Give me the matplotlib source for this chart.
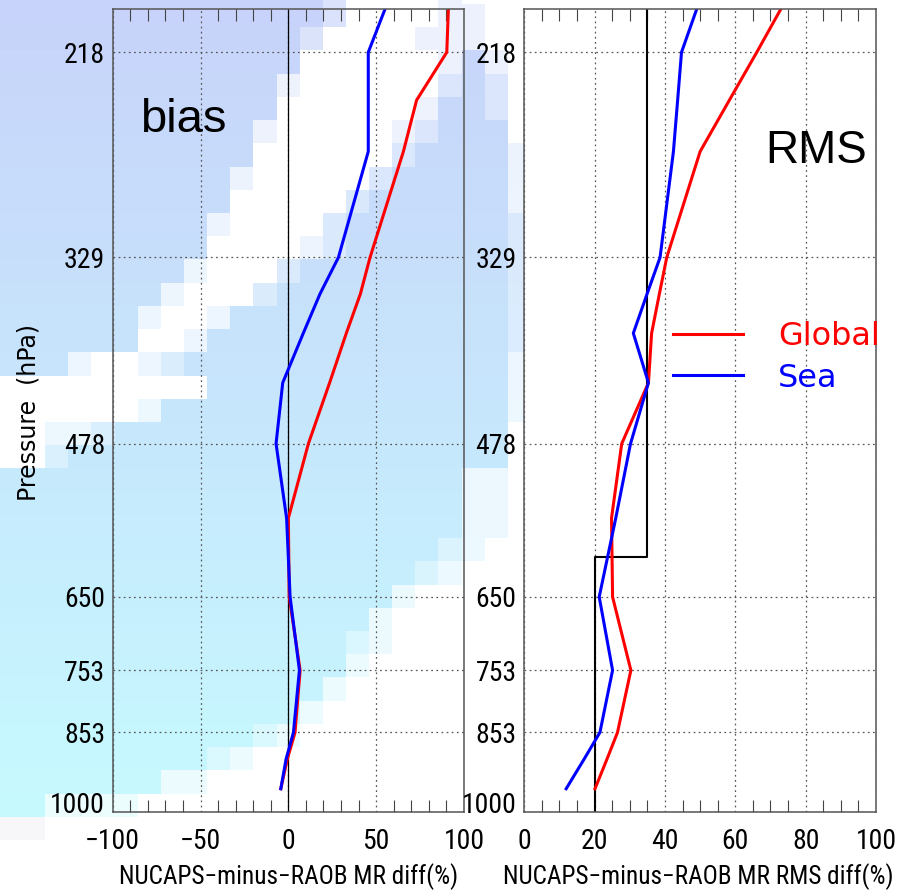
import numpy as np
import matplotlib
matplotlib.use('Agg')
import matplotlib.pyplot as plt
from matplotlib import font_manager as fm
from matplotlib.ticker import FixedLocator, MultipleLocator, NullLocator
from matplotlib.transforms import ScaledTranslation

# ---------------- data ----------------
levels = [200, 218, 240, 266, 329, 354, 383, 423, 478, 555, 650, 753, 853, 900, 955]
bias_global = [91.1, 90.2, 73.0, 65.5, 46.5, 41.0, 33.0, 23.5, 11.4, 0.0, 0.5, 6.7, 3.8, -0.6, -4.3]
bias_sea = [55.0, 45.5, 45.5, 45.5, 28.5, 18.0, 8.5, -3.2, -7.0, -1.0, 1.0, 6.3, 2.9, -1.3, -4.3]
rms_global = [72.9, 66.1, 58.3, 50.0, 40.5, 38.4, 36.2, 35.3, 27.7, 24.8, 25.1, 30.3, 26.5, 23.5, 20.1]
rms_sea = [49.0, 44.7, 43.6, 42.4, 38.6, 34.9, 31.0, 35.3, 30.2, 26.0, 21.3, 25.1, 21.5, 17.0, 11.9]
req_p = [200, 600, 600, 1000]
req_rms = [35, 35, 20, 20]

p_ticks = [218, 329, 478, 650, 753, 853, 1000]
p_labels = ['218', '329', '478', '650', '753', '853', '1000']
bias_ticks = [-100, -50, 0, 50, 100]
bias_labels = ['\u2212100', '\u221250', '0', '50', '100']
rms_ticks = [0, 20, 40, 60, 80, 100]
rms_labels = ['0', '20', '40', '60', '80', '100']
series_names = ['Global', 'Sea']
series_colors = ['#ff0000', '#0000ff']

# decorative slide background (blocky gradient with white swooshes)
bg_rows = [
    "..............-####+###",
    "..............-####++##",
    ".............-####+++##",
    ".............######+.+#",
    "............+######-.-#",
    "............######+..-#",
    "...........+#####+-...#",
    "...........######-....+",
    "..........+#####-.....+",
    "..........#####-......+",
    ".........+####-.......-",
    ".........####+-.......-",
    "........+###-.........-",
    ".......+###-..........-",
    "......+##+............-",
    "......##+.............-",
    "...+##+-..............+",
    "#########.............+",
    "######+...............+",
    "##++-.................#",
    "##-...................#",
    "....................++#",
    "....................++#",
    "....................++#",
    "...................-+##",
    "..................-+###",
    ".................+#####",
    "................+######",
    "...............-+######",
    "...............+#######",
    "..............+########",
    ".............+#########",
    "...........-+##########",
    ".........-+############",
    ".......++##############",
    "..++++#################",
    "gg#####################",
]

# ---------------- fonts ----------------
names = {f.name for f in fm.fontManager.ttflist}
narrow = None
for cand in ['Liberation Sans Narrow', 'DejaVu Sans Condensed', 'Roboto Condensed']:
    if cand in names:
        narrow = dict(family=cand)
        break
if narrow is None:
    for f in fm.fontManager.ttflist:
        if f.name == 'DejaVu Sans' and f.stretch == 'condensed':
            narrow = dict(family='DejaVu Sans', stretch='condensed')
            break
if narrow is None:
    narrow = dict(family='DejaVu Sans')
    tick_size, xlab_size = 15.5, 14.5
else:
    tick_size, xlab_size = 20, 18.2

W, H = 902, 892
fig = plt.figure(figsize=(W / 100, H / 100), dpi=100, facecolor='white')

# background image
top_c = np.array([200, 211, 250]) / 255.0
bot_c = np.array([198, 250, 255]) / 255.0
wmap = {'.': 0.0, '-': 0.35, '+': 0.68, '#': 1.0}
nr, nc = len(bg_rows), len(bg_rows[0])
y0, rh = -18.2, 23.2
x0, cw = -1.0, 23.1
img = np.ones((nr, nc, 3))
for j, row in enumerate(bg_rows):
    yc = y0 + rh * (j + 0.5)
    t = np.clip(yc / 817.0, 0, 1)
    base = top_c * (1 - t) + bot_c * t
    for c, ch in enumerate(row):
        if ch == 'g':
            img[j, c] = np.array([247, 247, 250]) / 255.0
        else:
            w = wmap[ch]
            img[j, c] = base * (1 - w) + w
bg = fig.add_axes([0, 0, 1, 1], zorder=0)
bg.imshow(img, extent=[x0, x0 + cw * nc, y0 + rh * nr, y0], interpolation='nearest', aspect='auto')
bg.set_xlim(0, W)
bg.set_ylim(H, 0)
bg.axis('off')


def px_rect(xa, ya, xb, yb):
    return [xa / W, 1 - yb / H, (xb - xa) / W, (yb - ya) / H]


ax1 = fig.add_axes(px_rect(112.7, 9.3, 464.0, 811.7), zorder=1)
ax1.patch.set_alpha(0.0)
ax2 = fig.add_axes(px_rect(524.3, 9.3, 876.0, 811.7), zorder=1)
ax2.set_facecolor('white')


def style(ax, xlim, xmajor, xlabels, xminor):
    ax.set_yscale('log')
    ax.set_ylim(1000, 200)
    ax.set_xlim(*xlim)
    ax.yaxis.set_major_locator(FixedLocator(p_ticks))
    ax.yaxis.set_minor_locator(NullLocator())
    ax.set_yticklabels(p_labels, **narrow, fontsize=tick_size)
    ax.xaxis.set_major_locator(FixedLocator(xmajor))
    ax.xaxis.set_minor_locator(MultipleLocator(xminor))
    ax.set_xticklabels(xlabels, **narrow, fontsize=tick_size)
    ax.tick_params(axis='both', which='major', length=0)
    ax.tick_params(axis='y', which='major', pad=5.5)
    ax.tick_params(axis='x', which='major', pad=11.5)
    ax.tick_params(axis='x', which='minor', direction='in', length=8.6, width=0.8,
                   color='#444444', top=True, bottom=True)
    ax.tick_params(axis='y', which='minor', length=0)
    ax.grid(True, which='major', color='#555555', linestyle=(0, (1.4, 2.7)), linewidth=0.9)
    for s in ax.spines.values():
        s.set_color('#555555')
        s.set_linewidth(1.1)
    lab = ax.get_yticklabels()[-1]
    lab.set_transform(lab.get_transform() + ScaledTranslation(0, 0.09, fig.dpi_scale_trans))


style(ax1, (-100, 100), bias_ticks, bias_labels, 10)
style(ax2, (0, 100), rms_ticks, rms_labels, 5)

# bias panel
ax1.axvline(0, color='black', lw=0.9, zorder=1.8)
ax1.plot(bias_global, levels, color=series_colors[0], lw=2.2, label=series_names[0])
ax1.plot(bias_sea, levels, color=series_colors[1], lw=2.2, label=series_names[1])
ax1.text(0.078, 0.8475, 'bias', transform=ax1.transAxes, fontsize=34,
         family='Liberation Sans', va='baseline', ha='left')
ax1.set_xlabel('NUCAPS\u2212minus\u2212RAOB MR diff(%)', **narrow, fontsize=xlab_size)
ax1.xaxis.set_label_coords(0.5, -0.0814)
ax1.xaxis.label.set_va('center')
ax1.set_ylabel('Pressure  (hPa)', family='DejaVu Sans', fontsize=17)
ax1.yaxis.set_label_coords(-0.2383, 0.498)
ax1.yaxis.label.set_va('center')
ax1.yaxis.label.set_ha('center')

# RMS panel
ax2.plot(req_rms, req_p, color='black', lw=1.5, zorder=1.9)
h1, = ax2.plot(rms_global, levels, color=series_colors[0], lw=2.2, label=series_names[0])
h2, = ax2.plot(rms_sea, levels, color=series_colors[1], lw=2.2, label=series_names[1])
ax2.text(0.6864, 0.8081, 'RMS', transform=ax2.transAxes, fontsize=33,
         family='Liberation Sans', va='baseline', ha='left')
ax2.set_xlabel('NUCAPS\u2212minus\u2212RAOB MR RMS diff(%)', **narrow, fontsize=xlab_size)
ax2.xaxis.set_label_coords(0.495, -0.0814)
ax2.xaxis.label.set_va('center')
ax2.legend(handles=[h1, h2], loc='upper left', bbox_to_anchor=(0.4237, 0.611),
           frameon=False, fontsize=23, handlelength=2.17, handletextpad=1.1,
           labelspacing=0.32, borderpad=0, borderaxespad=0, labelcolor='linecolor')

fig.savefig('out.png', dpi=100, facecolor='white')
